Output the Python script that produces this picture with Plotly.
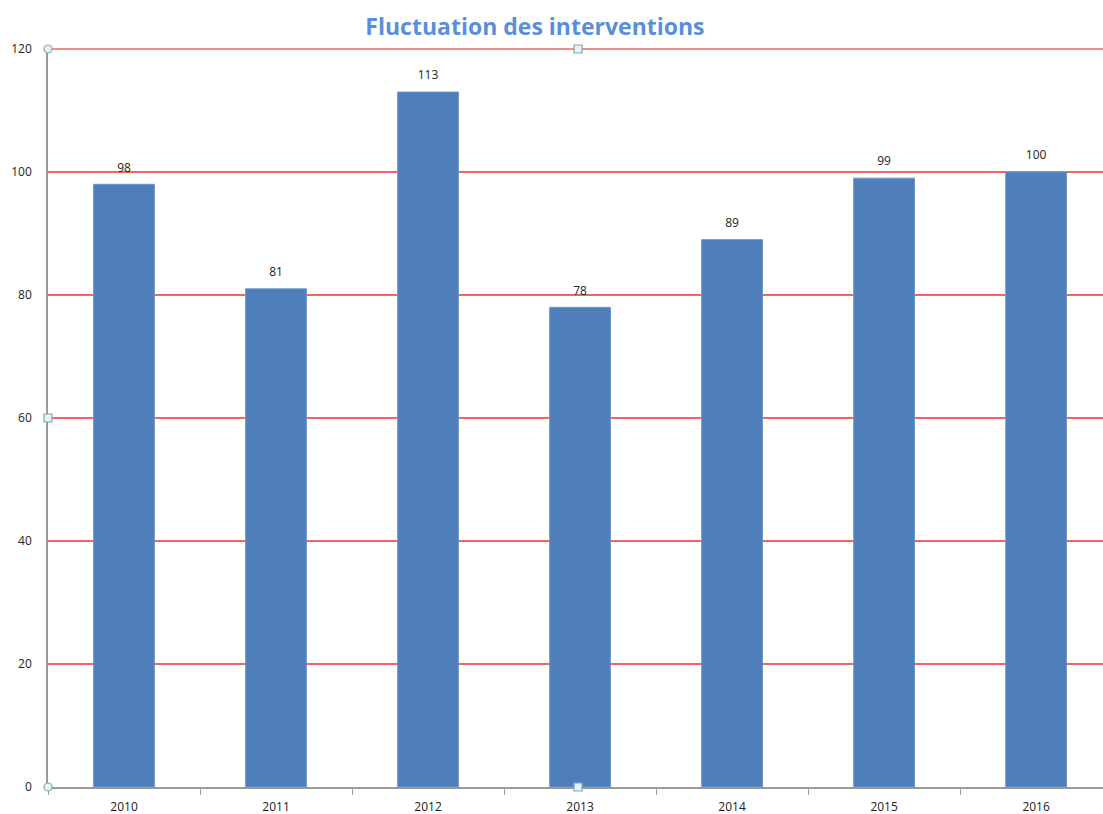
import plotly.graph_objects as go

years = ["2010", "2011", "2012", "2013", "2014", "2015", "2016"]
interventions = [98, 81, 113, 78, 89, 99, 100]
y_ticks = [0, 20, 40, 60, 80, 100, 120]

fig = go.Figure()
fig.add_trace(go.Bar(
    x=years, y=interventions, width=0.4,
    marker=dict(color="#4F7FBA", line=dict(color="#6F97C8", width=1)),
    hoverinfo="skip",
))
fig.add_trace(go.Scatter(
    x=years, y=interventions, mode="markers+text", text=[str(v) for v in interventions],
    textposition="top center", cliponaxis=False, hoverinfo="skip",
    marker=dict(size=14, color="rgba(0,0,0,0)"),
    textfont=dict(family="Open Sans, sans-serif", size=12, color="#222222"),
))

fig.update_layout(
    width=1103, height=814,
    margin=dict(l=48, r=0, t=49, b=27, autoexpand=False),
    paper_bgcolor="white", plot_bgcolor="white",
    showlegend=False,
    title=dict(text="<b>Fluctuation des interventions</b>", x=0.485, xanchor="center",
               y=0.967, yanchor="middle",
               font=dict(family="Open Sans, sans-serif", size=23, color="#5A8FD8")),
    xaxis=dict(type="category", range=[-0.5, 6.44], showline=True, linecolor="#9A9A9A",
               linewidth=1.5, ticks="outside", tickson="boundaries", ticklen=6,
               tickcolor="#9A9A9A", showgrid=False, ticklabelstandoff=8,
               tickfont=dict(family="Open Sans, sans-serif", size=12, color="#222222")),
    yaxis=dict(range=[0, 120], tickvals=y_ticks, showline=True, linecolor="#9A9A9A",
               linewidth=1.5, gridcolor="#F26464", gridwidth=1.6, zeroline=False,
               ticks="", ticklabelstandoff=12,
               tickfont=dict(family="Open Sans, sans-serif", size=12, color="#222222")),
    bargap=0.6,
)

# top gridline (plotly hides the one on the plot edge)
fig.add_shape(type="line", xref="paper", yref="paper", x0=0, x1=1, y0=1, y1=1,
              line=dict(color="#F26464", width=1.6), layer="above")

# selection handles (decorative)
for (xa, ya, kind) in [(0, 1, "circle"), (0, 0, "circle"), (0.5024, 1, "rect"), (0, 0.5, "rect"), (0.5024, 0, "rect")]:
    fig.add_shape(type=kind, xref="paper", yref="paper", xsizemode="pixel", ysizemode="pixel",
                  xanchor=xa, yanchor=ya, x0=-4, x1=4, y0=-4, y1=4,
                  line=dict(color="#8AA2B0", width=1.2), fillcolor="#E2F4F8")

fig.write_html("out.html", config={"displayModeBar": False},
               post_script="document.body.style.margin='0';document.body.style.overflow='hidden';")
